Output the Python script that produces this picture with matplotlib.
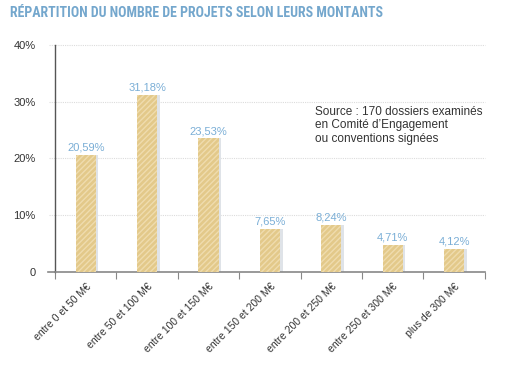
import matplotlib.pyplot as plt
from matplotlib import font_manager

categories = ["entre 0 et 50 M€", "entre 50 et 100 M€", "entre 100 et 150 M€",
              "entre 150 et 200 M€", "entre 200 et 250 M€", "entre 250 et 300 M€",
              "plus de 300 M€"]
values = [20.59, 31.18, 23.53, 7.65, 8.24, 4.71, 4.12]
labels = ["20,59%", "31,18%", "23,53%", "7,65%", "8,24%", "4,71%", "4,12%"]
yticks = [0, 10, 20, 30, 40]
ytick_labels = ["0", "10%", "20%", "30%", "40%"]

names = {f.name for f in font_manager.fontManager.ttflist}
title_font, title_size = "DejaVu Sans", 8
for cand in ["Liberation Sans Narrow", "Roboto Condensed", "DejaVu Sans Condensed",
             "Open Sans Condensed"]:
    if cand in names:
        title_font, title_size = cand, 10
        break
plt.rcParams['font.family'] = ['Liberation Sans', 'DejaVu Sans']
plt.rcParams['hatch.color'] = "#efdcae"

fig = plt.figure(figsize=(5.05, 3.68), dpi=100)
ax = fig.add_axes([0.109, 0.261, 0.851, 0.617])

bar_col = "#e3c98a"
blue = "#7aaed6"
x = list(range(len(values)))

# soft shadow to the right
ax.bar([i + 0.04 for i in x], values, width=0.33, color="#dfe3e8", zorder=2)
ax.bar(x, values, width=0.33, color=bar_col, edgecolor="#efdcae", hatch="//////",
       linewidth=0, zorder=3)

for i, (v, lab) in enumerate(zip(values, labels)):
    ax.text(i, v + 0.4, lab, ha="center", va="bottom", color=blue, fontsize=8)

ax.set_xlim(-0.5, len(values) - 0.5)
ax.set_ylim(0, 40)
ax.set_yticks(yticks)
ax.set_yticklabels(ytick_labels, fontsize=8, color="#333333")
ax.tick_params(axis="y", length=0, pad=14)
for y in yticks[1:]:
    ax.axhline(y, xmin=-0.015, xmax=1, color="#dcdcdc", linestyle=(0, (1, 1)),
               linewidth=0.8, clip_on=False, zorder=1)

ax.set_xticks([i - 0.5 for i in range(len(values) + 1)], minor=False)
ax.set_xticklabels([])
ax.tick_params(axis="x", length=5, color="#888888", width=0.8)
ax.set_xticks(x, minor=True)
ax.set_xticklabels(categories, minor=True, rotation=45, ha="right",
                   rotation_mode="anchor", fontsize=7.5, color="#333333")
ax.tick_params(axis="x", which="minor", length=0, pad=7)

for s in ["top", "right"]:
    ax.spines[s].set_visible(False)
ax.spines["left"].set_color("#555555")
ax.spines["left"].set_linewidth(1)
ax.spines["left"].set_bounds(0, 40)
ax.spines["bottom"].set_color("#888888")
ax.spines["bottom"].set_linewidth(1.2)
ax.plot([-0.62, -0.5], [0, 0], color="#888888", linewidth=1.2, clip_on=False)

ax.text(3.73, 29.3, "Source : 170 dossiers examinés\nen Comité d’Engagement\nou conventions signées",
        fontsize=8.5, color="#333333", va="top", ha="left", linespacing=1.2)

fig.text(0.02, 0.965, "RÉPARTITION DU NOMBRE DE PROJETS SELON LEURS MONTANTS",
         fontsize=title_size, fontweight="bold", color="#74a7cd", family=title_font,
         va="center")

fig.savefig("out.png", dpi=100)
